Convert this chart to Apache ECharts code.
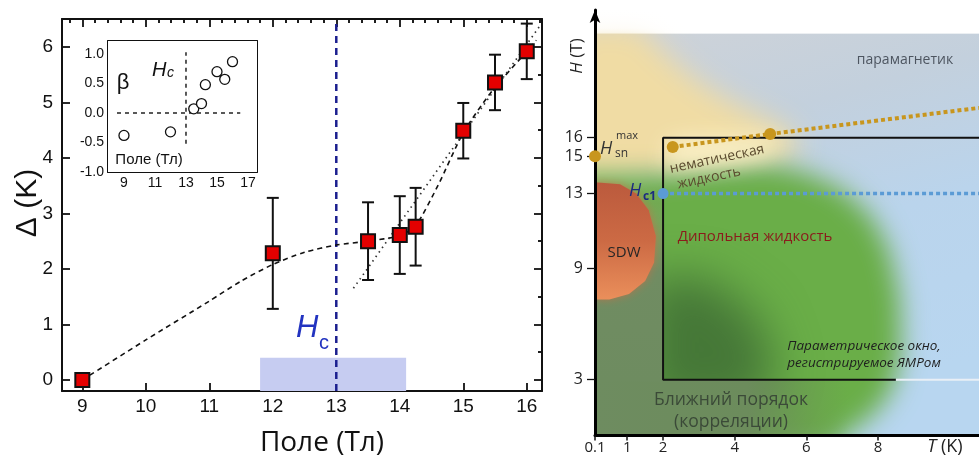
<!DOCTYPE html>
<html><head><meta charset="utf-8">
<script src="https://cdn.jsdelivr.net/npm/echarts@6/dist/echarts.min.js"></script>
<style>html,body{margin:0;padding:0;background:#fff}#c{width:979px;height:463px}</style>
</head><body><div id="c"></div>
<script>
// ---------- Left panel data ----------
const fieldTicks = [9, 10, 11, 12, 13, 14, 15, 16];
const gapTicks = [0, 1, 2, 3, 4, 5, 6];
const fieldPts = [9, 12, 13.5, 14, 14.25, 15, 15.5, 16];
const gapPts = [0, 2.28, 2.5, 2.61, 2.76, 4.49, 5.36, 5.92];
const gapErr = [0, 1.0, 0.7, 0.7, 0.7, 0.5, 0.5, 0.5];
const fitField = [9, 10, 11, 11.5, 12, 12.5, 13, 13.5, 14, 14.25, 14.6, 15, 15.45, 16, 16.15];
const fitGap = [0, 0.72, 1.42, 1.78, 2.08, 2.3, 2.43, 2.5, 2.6, 2.78, 3.5, 4.45, 5.2, 5.92, 6.12];
const trendField = [13.27, 16.22];
const trendGap = [1.65, 6.4];
const hcField = 13;
const hcBand = [11.8, 14.1];
const hcBandTop = 0.4;
// inset
const betaXTicks = [9, 11, 13, 15, 17];
const betaYTicks = [-1.0, -0.5, 0.0, 0.5, 1.0];
const betaVal = [-0.38, -0.32, 0.07, 0.16, 0.48, 0.70, 0.57, 0.87];
const betaZeroLine = [8.55, 16.5];
const betaHcLine = [-0.52, 1.03];

// ---------- Right panel data (T in K, H in T) ----------
const tTicks = [0.1, 1, 2, 4, 6, 8];
const hTicks = [3, 9, 13, 15, 16];
const nmrWindowT = [2, 10.82];
const nmrWindowH = [3, 16];
const snLineT = [2.27, 4.99, 10.82];
const snLineH = [15.5, 16.2, 17.6];
const snPointsT = [0.1, 2.27, 4.99];
const snPointsH = [15, 15.5, 16.2];
const hc1 = 13;
const hc1StartT = 2;
const bgRegion = [[0.1, 0], [10.82, 0], [10.82, 21.6], [0.1, 21.6]];
const topMask = [[0.1, 21.6], [10.82, 21.6], [10.82, 23], [0.1, 23]];
const yellowRegion = [[-0.6, 22], [1.3, 22], [2.0, 20.6], [2.8, 19.3], [3.6, 18.3], [4.5, 17.4], [5.3, 16.7], [5.8, 15.9], [5.7, 15.1], [5.0, 14.6], [4.0, 14.3], [3.0, 14.1], [2.0, 13.9], [-0.6, 13.3]];
const creamRegion = [[2.1, 14.5], [3.5, 14.6], [4.8, 15.0], [5.3, 15.6], [4.8, 16.0], [3.0, 16.0], [2.1, 15.8]];
const greenRegion = [[-0.6, 14.0], [2.0, 14.0], [3.5, 14.3], [5.0, 14.5], [6.0, 14.1], [7.0, 13.2], [7.8, 11.8], [8.3, 10.0], [8.6, 7.5], [8.65, 4.5], [8.4, 2.5], [7.9, 1.2], [7.2, 0.2], [6.6, -0.8], [-0.6, -0.8]];
const darkGreenRegion = [[1.5, 1.5], [4.5, 1.5], [5.2, 3.5], [4.6, 6.5], [3.2, 8.5], [1.5, 8.5]];
const oliveBottom = [[0.1, -0.5], [7.2, -0.5], [7.2, 3], [0.1, 3]];
const oliveLeft = [[0.1, 2.9], [2, 2.9], [2, 13.6], [0.1, 13.6]];
const sdwRegion = [[0.1, 13.6], [0.8, 13.5], [1.25, 13.0], [1.6, 12.1], [1.8, 10.7], [1.75, 9.3], [1.5, 8.3], [1.05, 7.6], [0.5, 7.3], [0.1, 7.3]];

const LS = 'Liberation Sans, Arial, sans-serif';
const OS = 'Open Sans, sans-serif';

const xMinor = [];
for (let v = 8.8; v < 16.25; v += 0.2) { const r = Math.round(v * 10) / 10; if (Math.abs(r - Math.round(r)) > 0.01) xMinor.push(r); }
const yMinor = [0.5, 1.5, 2.5, 3.5, 4.5, 5.5];
const bxTicks = [8, 9, 10, 11, 12, 13, 14, 15, 16, 17];
const byTicks = [-0.75, -0.5, -0.25, 0, 0.25, 0.5, 0.75, 1.0];

const LINE = { show: true, onZero: false, lineStyle: { color: '#111', width: 2 } };
const NOLINE = { show: false, onZero: false };
function vAxis(o) {
  return Object.assign({
    type: 'value', splitLine: { show: false },
    axisLine: LINE, axisTick: { show: false }, axisLabel: { show: false }
  }, o);
}
function ticks(vals, len, inside, w) {
  return { show: true, inside: inside, length: len, customValues: vals, lineStyle: { color: '#111', width: w || 1.5 } };
}

const OFF = 5000;
function blob(poly, color, blur) {
  return function (params, api) {
    const pts = poly.map(p => { const c = api.coord(p); return [c[0] + OFF, c[1]]; });
    return { type: 'polygon', shape: { points: pts }, style: { fill: color, shadowBlur: blur, shadowColor: color, shadowOffsetX: -OFF } };
  };
}
function flat(poly, fill, extra) {
  return function (params, api) {
    const pts = poly.map(p => api.coord(p));
    return { type: 'polygon', shape: { points: pts }, style: Object.assign({ fill: fill }, extra || {}) };
  };
}
function regionSeries(render, z) {
  return { type: 'custom', xAxisIndex: 6, yAxisIndex: 6, clip: true, silent: true, z: z || 1, data: [[0, 0]], renderItem: render };
}

const chart = echarts.init(document.getElementById('c'), null, { renderer: 'canvas' });

const option = {
  animation: false,
  backgroundColor: '#fff',
  grid: [
    { left: 62, top: 19, width: 480, height: 372 },
    { left: 108, top: 41, width: 149, height: 131, z: 5 },
    { left: 595, top: 10, width: 384, height: 425.5 }
  ],
  xAxis: [
    vAxis({ gridIndex: 0, min: 8.68, max: 16.24, axisTick: ticks(fieldTicks, 8, true, 1.8),
      axisLabel: { show: true, customValues: fieldTicks, margin: 6, fontSize: 19, color: '#111', fontFamily: LS } }),
    vAxis({ gridIndex: 0, min: 8.68, max: 16.24, axisLine: NOLINE, axisTick: ticks(xMinor, 4, true, 1.5) }),
    vAxis({ gridIndex: 0, min: 8.68, max: 16.24, position: 'top', axisTick: ticks(fieldTicks, 8, true, 1.8) }),
    vAxis({ gridIndex: 0, min: 8.68, max: 16.24, position: 'top', axisLine: NOLINE, axisTick: ticks(xMinor, 4, true, 1.5) }),
    vAxis({ gridIndex: 1, min: 7.97, max: 17.58, axisTick: ticks(bxTicks, 4, true, 1.3),
      axisLabel: { show: true, customValues: betaXTicks, margin: 4, fontSize: 14, color: '#111', fontFamily: LS } }),
    vAxis({ gridIndex: 1, min: 7.97, max: 17.58, position: 'top' }),
    vAxis({ gridIndex: 2, min: 0.1, max: 10.82, z: 20, axisLine: { show: true, onZero: false, lineStyle: { color: '#000', width: 3 } },
      axisTick: ticks(tTicks, 5, false, 1.5),
      axisLabel: { show: true, customValues: tTicks, margin: 5, fontSize: 15, color: '#222', fontFamily: OS } })
  ],
  yAxis: [
    vAxis({ gridIndex: 0, min: -0.2, max: 6.503, axisTick: ticks(gapTicks, 8, true, 1.8),
      axisLabel: { show: true, customValues: gapTicks, margin: 9, fontSize: 19, color: '#111', fontFamily: LS } }),
    vAxis({ gridIndex: 0, min: -0.2, max: 6.503, axisLine: NOLINE, axisTick: ticks(yMinor, 4, true, 1.5) }),
    vAxis({ gridIndex: 0, min: -0.2, max: 6.503, position: 'right', axisTick: ticks(gapTicks, 8, true, 1.8) }),
    vAxis({ gridIndex: 0, min: -0.2, max: 6.503, position: 'right', axisLine: NOLINE, axisTick: ticks(yMinor, 4, true, 1.5) }),
    vAxis({ gridIndex: 1, min: -1.0, max: 1.22, axisTick: ticks(byTicks, 4, true, 1.3),
      axisLabel: { show: true, customValues: betaYTicks, margin: 4, fontSize: 14, color: '#111', fontFamily: LS, formatter: v => v.toFixed(1) } }),
    vAxis({ gridIndex: 1, min: -1.0, max: 1.22, position: 'right' }),
    vAxis({ gridIndex: 2, min: 0, max: 22.86, z: 20,
      axisLine: { show: true, onZero: false, symbol: ['none', 'arrow'], symbolSize: [8, 13], lineStyle: { color: '#000', width: 3 } },
      axisTick: ticks(hTicks, 8, false, 1.3),
      axisLabel: { show: true, customValues: hTicks, margin: 12, fontSize: 16, color: '#222', fontFamily: OS } })
  ],
  series: [
    // ----- left main -----
    { type: 'custom', xAxisIndex: 0, yAxisIndex: 0, z: 1, silent: true, data: [[hcBand[0], hcBand[1], hcBandTop]],
      renderItem: function (p, api) {
        const a = api.coord([api.value(0), api.value(2)]);
        const b = api.coord([api.value(1), -0.2]);
        return { type: 'rect', shape: { x: a[0], y: a[1], width: b[0] - a[0], height: b[1] - a[1] }, style: { fill: '#c6ccf1' } };
      } },
    { type: 'line', xAxisIndex: 0, yAxisIndex: 0, z: 2, symbol: 'none', silent: true,
      data: [[hcField, -0.2], [hcField, 6.503]], lineStyle: { color: '#1b1f8f', width: 2.5, type: [7, 5] } },
    { type: 'line', xAxisIndex: 0, yAxisIndex: 0, z: 3, symbol: 'none', silent: true, smooth: 0.25,
      data: fitField.map((x, i) => [x, fitGap[i]]), lineStyle: { color: '#111', width: 1.6, type: [5, 4] } },
    { type: 'line', xAxisIndex: 0, yAxisIndex: 0, z: 3, symbol: 'none', silent: true,
      data: trendField.map((x, i) => [x, trendGap[i]]), lineStyle: { color: '#333', width: 1.7, type: [1.5, 4] } },
    { type: 'custom', xAxisIndex: 0, yAxisIndex: 0, z: 4, silent: true,
      data: fieldPts.map((x, i) => [x, gapPts[i] - gapErr[i], gapPts[i] + gapErr[i]]).filter((d, i) => gapErr[i] > 0),
      encode: { x: 0, y: [1, 2] },
      renderItem: function (p, api) {
        const x = api.value(0);
        const p1 = api.coord([x, api.value(1)]), p2 = api.coord([x, api.value(2)]);
        const w = 6, st = { stroke: '#111', lineWidth: 2 };
        return { type: 'group', children: [
          { type: 'line', shape: { x1: p1[0], y1: p1[1], x2: p2[0], y2: p2[1] }, style: st },
          { type: 'line', shape: { x1: p1[0] - w, y1: p1[1], x2: p1[0] + w, y2: p1[1] }, style: st },
          { type: 'line', shape: { x1: p2[0] - w, y1: p2[1], x2: p2[0] + w, y2: p2[1] }, style: st }
        ] };
      } },
    { type: 'scatter', xAxisIndex: 0, yAxisIndex: 0, z: 5, symbol: 'rect', symbolSize: 14, silent: true,
      data: fieldPts.map((x, i) => [x, gapPts[i]]),
      itemStyle: { color: '#e40000', borderColor: '#111', borderWidth: 2, opacity: 1 } },
    // ----- inset -----
    { type: 'custom', xAxisIndex: 4, yAxisIndex: 4, z: 6, silent: true, data: [[0, 0]],
      renderItem: function (p, api) {
        const a = api.coord([7.97, 1.22]), b = api.coord([17.58, -1.0]);
        return { type: 'rect', shape: { x: a[0], y: a[1], width: b[0] - a[0], height: b[1] - a[1] }, style: { fill: '#fff' } };
      } },
    { type: 'line', xAxisIndex: 4, yAxisIndex: 4, z: 7, symbol: 'none', silent: true,
      data: [[betaZeroLine[0], 0], [betaZeroLine[1], 0]], lineStyle: { color: '#222', width: 1.5, type: [4, 4] } },
    { type: 'line', xAxisIndex: 4, yAxisIndex: 4, z: 7, symbol: 'none', silent: true,
      data: [[hcField, betaHcLine[0]], [hcField, betaHcLine[1]]], lineStyle: { color: '#222', width: 1.5, type: [4, 4] } },
    { type: 'scatter', xAxisIndex: 4, yAxisIndex: 4, z: 8, symbol: 'circle', symbolSize: 10, silent: true,
      data: fieldPts.map((x, i) => [x, betaVal[i]]),
      itemStyle: { color: '#fff', borderColor: '#111', borderWidth: 1.3, opacity: 1 } },
    // ----- right phase diagram -----
    regionSeries(flat(bgRegion, { type: 'linear', x: 0, y: 0, x2: 0.3, y2: 1, colorStops: [
      { offset: 0, color: '#cfd3d8' }, { offset: 0.3, color: '#c3d0dd' }, { offset: 0.6, color: '#bad4ec' }, { offset: 1, color: '#b8d6f0' }] }), 1),
    regionSeries(blob(yellowRegion, '#f0dca4', 28), 2),
    regionSeries(blob(greenRegion, '#6aae48', 26), 3),
    regionSeries(blob(creamRegion, '#fbf1c8', 22), 4),
    regionSeries(blob(darkGreenRegion, '#467838', 45), 5),
    regionSeries(flat(oliveBottom, { type: 'linear', x: 0, y: 0, x2: 1, y2: 0, colorStops: [
      { offset: 0, color: 'rgba(110,140,96,1)' }, { offset: 0.6, color: 'rgba(108,140,92,1)' }, { offset: 1, color: 'rgba(108,150,85,0)' }] }), 6),
    regionSeries(flat(oliveLeft, { type: 'linear', x: 0, y: 1, x2: 0, y2: 0, colorStops: [
      { offset: 0, color: 'rgba(110,140,96,1)' }, { offset: 0.55, color: 'rgba(112,140,98,1)' }, { offset: 1, color: 'rgba(150,160,120,0)' }] }), 6),
    regionSeries(flat(sdwRegion, { type: 'linear', x: 0, y: 0, x2: 0, y2: 1, colorStops: [
      { offset: 0, color: '#bb5a3d' }, { offset: 0.5, color: '#cc6a44' }, { offset: 1, color: '#ea8f5b' }] },
      { shadowBlur: 8, shadowColor: 'rgba(205,110,70,0.7)' }), 7),
    regionSeries(flat(topMask, { type: 'linear', x: 0, y: 0, x2: 0, y2: 1, colorStops: [
      { offset: 0, color: 'rgba(255,255,255,1)' }, { offset: 0.8, color: 'rgba(255,255,255,0.85)' }, { offset: 1, color: 'rgba(255,255,255,0.6)' }] }), 7),
    { type: 'line', xAxisIndex: 6, yAxisIndex: 6, z: 8, symbol: 'none', silent: true,
      data: [[nmrWindowT[1], nmrWindowH[1]], [nmrWindowT[0], nmrWindowH[1]], [nmrWindowT[0], nmrWindowH[0]], [8.5, nmrWindowH[0]]],
      lineStyle: { color: '#111', width: 2 } },
    { type: 'line', xAxisIndex: 6, yAxisIndex: 6, z: 8, symbol: 'none', silent: true,
      data: [[8.5, nmrWindowH[0]], [nmrWindowT[1], nmrWindowH[0]]], lineStyle: { color: '#e9eff6', width: 2 } },
    { type: 'line', xAxisIndex: 6, yAxisIndex: 6, z: 9, symbol: 'none', silent: true,
      data: snLineT.map((t, i) => [t, snLineH[i]]), lineStyle: { color: '#c8961e', width: 4, type: [4, 3] } },
    { type: 'line', xAxisIndex: 6, yAxisIndex: 6, z: 9, symbol: 'none', silent: true,
      data: [[hc1StartT, hc1], [nmrWindowT[1], hc1]], lineStyle: { color: '#5b9bd5', width: 3.5, type: [4, 3] } },
    { type: 'scatter', xAxisIndex: 6, yAxisIndex: 6, z: 30, symbolSize: 12, silent: true, clip: false,
      data: snPointsT.map((t, i) => [t, snPointsH[i]]), itemStyle: { color: '#c8961e', opacity: 1 } },
    { type: 'scatter', xAxisIndex: 6, yAxisIndex: 6, z: 30, symbolSize: 11, silent: true,
      data: [[hc1StartT, hc1]], itemStyle: { color: '#5b9bd5', opacity: 1 } }
  ],
  graphic: [
    // left panel
    { type: 'text', x: 28, y: 203, rotation: Math.PI / 2, style: { text: 'Δ (K)', font: '30px ' + LS, fill: '#111', align: 'center', verticalAlign: 'middle' } },
    { type: 'text', x: 322, y: 443, style: { text: 'Поле (Тл)', font: '28px ' + OS, fill: '#111', align: 'center', verticalAlign: 'middle' } },
    { type: 'text', x: 296, y: 313, z: 20, style: { text: 'H', font: 'italic 31px ' + LS, fill: '#2233c0', align: 'left', verticalAlign: 'top' } },
    { type: 'text', x: 319, y: 333, z: 20, style: { text: 'c', font: '20px ' + LS, fill: '#2233c0', align: 'left', verticalAlign: 'top' } },
    // inset
    { type: 'text', x: 123, y: 83, z: 20, style: { text: 'β', font: '22px ' + LS, fill: '#111', align: 'center', verticalAlign: 'middle' } },
    { type: 'text', x: 152, y: 60, z: 20, style: { text: 'H', font: 'italic 20px ' + LS, fill: '#111', align: 'left', verticalAlign: 'top' } },
    { type: 'text', x: 167, y: 66, z: 20, style: { text: 'c', font: 'italic 14px ' + LS, fill: '#111', align: 'left', verticalAlign: 'top' } },
    { type: 'text', x: 149, y: 160, z: 20, style: { text: 'Поле (Тл)', font: '15px ' + LS, fill: '#111', align: 'center', verticalAlign: 'middle' } },
    // right panel
    { type: 'text', x: 577, y: 56, rotation: Math.PI / 2, z: 20, style: { text: '{i|H} (T)', font: '17px ' + OS, fill: '#222', align: 'center', verticalAlign: 'middle', rich: { i: { font: 'italic 17px ' + OS, fill: '#222' } } } },
    { type: 'text', x: 945, y: 447, z: 20, style: { text: '{i|T} (K)', font: '18px ' + OS, fill: '#222', align: 'center', verticalAlign: 'middle', rich: { i: { font: 'italic 18px ' + OS, fill: '#222' } } } },
    { type: 'text', x: 905, y: 60, z: 20, style: { text: 'парамагнетик', font: '14px ' + OS, fill: '#4d5560', align: 'center', verticalAlign: 'middle' } },
    { type: 'text', x: 600, y: 140, z: 20, style: { text: 'H', font: 'italic 18px ' + OS, fill: '#333', align: 'left', verticalAlign: 'top' } },
    { type: 'text', x: 616, y: 130, z: 20, style: { text: 'max', font: '11px ' + OS, fill: '#333', align: 'left', verticalAlign: 'top' } },
    { type: 'text', x: 615, y: 148, z: 20, style: { text: 'sn', font: '12px ' + OS, fill: '#333', align: 'left', verticalAlign: 'top' } },
    { type: 'text', x: 717, y: 159, rotation: 0.21, z: 20, style: { text: 'нематическая', font: '14px ' + OS, fill: '#5a4a2e', align: 'center', verticalAlign: 'middle' } },
    { type: 'text', x: 709, y: 178, rotation: 0.21, z: 20, style: { text: 'жидкость', font: '14px ' + OS, fill: '#5a4a2e', align: 'center', verticalAlign: 'middle' } },
    { type: 'text', x: 629, y: 182, z: 20, style: { text: 'H', font: 'italic 18px ' + OS, fill: '#1b2a80', align: 'left', verticalAlign: 'top' } },
    { type: 'text', x: 643, y: 191, z: 20, style: { text: 'c1', font: 'bold 12px ' + OS, fill: '#1b2a80', align: 'left', verticalAlign: 'top' } },
    { type: 'text', x: 624, y: 253, z: 20, style: { text: 'SDW', font: '15px ' + OS, fill: '#262626', align: 'center', verticalAlign: 'middle' } },
    { type: 'text', x: 755, y: 237, z: 20, style: { text: 'Дипольная жидкость', font: '15px ' + OS, fill: '#8a1c1c', align: 'center', verticalAlign: 'middle' } },
    { type: 'text', x: 864, y: 346, z: 20, style: { text: 'Параметрическое окно,', font: 'italic 13.5px ' + OS, fill: '#1e1e1e', align: 'center', verticalAlign: 'middle' } },
    { type: 'text', x: 864, y: 363, z: 20, style: { text: 'регистрируемое ЯМРом', font: 'italic 13.5px ' + OS, fill: '#1e1e1e', align: 'center', verticalAlign: 'middle' } },
    { type: 'text', x: 731, y: 400, z: 20, style: { text: 'Ближний порядок', font: '17.5px ' + OS, fill: '#3b4a38', align: 'center', verticalAlign: 'middle' } },
    { type: 'text', x: 731, y: 422, z: 20, style: { text: '(корреляции)', font: '17.5px ' + OS, fill: '#3b4a38', align: 'center', verticalAlign: 'middle' } }
  ]
};
chart.setOption(option);
</script>
</body></html>
